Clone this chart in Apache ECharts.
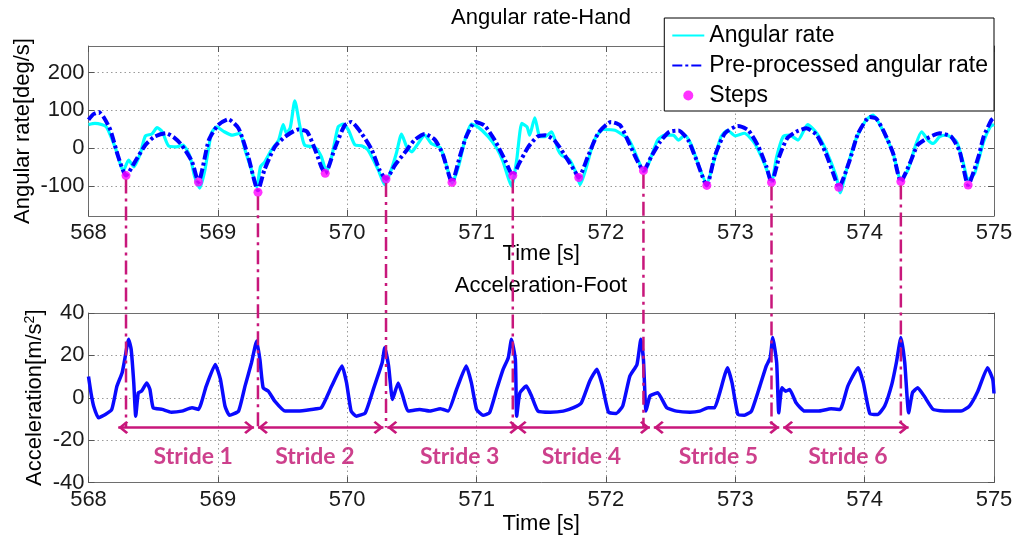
<!DOCTYPE html>
<html><head><meta charset="utf-8">
<script src="https://cdn.jsdelivr.net/npm/echarts@6/dist/echarts.min.js"></script>
<style>html,body{margin:0;padding:0;background:#fff}#c{width:1024px;height:546px}</style>
</head><body><div id="c"></div>
<script>
// ---------- data ----------
const xTicks = [568, 569, 570, 571, 572, 573, 574, 575];
const angYTicks = [-100, 0, 100, 200];
const accYTicks = [-40, -20, 0, 20, 40];

const angRateT = [568.00,568.05,568.10,568.14,568.205,568.27,568.31,568.35,568.40,568.44,568.49,568.53,568.57,568.62,568.68,568.73,568.785,568.82,568.86,568.90,568.95,568.99,569.05,569.11,569.17,569.21,569.26,569.30,569.33,569.36,569.415,569.47,569.505,569.53,569.56,569.595,569.635,569.67,569.75,569.80,569.84,569.88,569.93,569.97,570.01,570.06,570.11,570.16,570.24,570.29,570.34,570.38,570.42,570.46,570.50,570.54,570.60,570.65,570.72,570.77,570.81,570.86,570.91,570.96,571.01,571.09,571.155,571.205,571.27,571.31,571.35,571.39,571.41,571.45,571.49,571.53,571.58,571.63,571.66,571.72,571.77,571.80,571.85,571.91,571.98,572.07,572.15,572.18,572.21,572.275,572.30,572.35,572.40,572.455,572.52,572.56,572.61,572.66,572.71,572.78,572.83,572.89,572.94,573.00,573.07,573.15,573.23,573.28,573.32,573.37,573.42,573.485,573.56,573.63,573.70,573.78,573.81,573.86,573.93,574.01,574.065,574.14,574.22,574.28,574.335,574.39,574.44,574.49,574.53,574.58,574.63,574.71,574.76,574.80,574.85,574.92,574.97,575.00];
const angRateV = [62,65,62,55,3,-60,-32,-50,-15,32,37,54,43,5,3,8,-23,-75,-106,-58,39,56,43,34,39,-5,-58,-103,-49,-38,-5,21,62,39,54,125,56,8,2,-23,-63,-23,56,63,47,8,6,-5,-58,-97,-58,-14,37,3,-10,8,34,12,0,-49,-93,-49,21,63,56,30,0,-36,-101,-32,65,56,34,80,30,30,43,-5,-20,-32,-67,-97,-49,21,49,47,30,21,0,-53,-62,-23,21,34,34,21,34,8,-40,-95,-40,30,47,32,39,12,-45,-89,-23,30,34,21,62,39,-5,-75,-119,-58,21,74,87,47,-14,-84,-58,3,43,21,12,30,34,17,-36,-84,-67,17,56,62];

const preT = [568.00,568.04,568.08,568.12,568.17,568.23,568.29,568.36,568.44,568.51,568.60,568.66,568.72,568.80,568.85,568.93,569.00,569.08,569.16,569.235,569.31,569.36,569.44,569.52,569.62,569.69,569.76,569.80,569.83,569.905,569.98,570.03,570.11,570.19,570.25,570.30,570.37,570.45,570.52,570.60,570.68,570.74,570.81,570.87,570.92,570.99,571.06,571.14,571.22,571.28,571.33,571.40,571.47,571.53,571.60,571.68,571.76,571.79,571.86,571.94,572.04,572.11,572.18,572.24,572.29,572.35,572.42,572.49,572.56,572.635,572.70,572.78,572.84,572.92,573.02,573.10,573.18,573.24,573.28,573.34,573.40,573.47,573.55,573.63,573.70,573.76,573.80,573.885,573.95,574.04,574.09,574.155,574.22,574.28,574.35,574.41,574.48,574.58,574.67,574.735,574.80,574.88,574.92,574.98,575.00];
const preV = [75,90,95,80,47,-23,-73,-36,8,30,39,28,8,-36,-90,21,60,76,52,-23,-112,-58,3,30,49,43,-12,-50,-67,0,60,69,39,-5,-58,-82,-45,-10,21,37,21,-18,-91,-23,30,69,60,21,-32,-73,-40,3,30,34,21,-18,-62,-78,-23,39,69,60,12,-32,-60,-23,17,43,46,21,-32,-99,-23,39,58,47,3,-49,-91,-23,25,43,52,34,-14,-70,-104,-32,39,82,78,39,-14,-89,-40,8,25,39,30,-10,-98,-23,30,74,80];

const stepT = [568.29,568.85,569.31,569.83,570.30,570.81,571.28,571.79,572.29,572.78,573.28,573.80,574.28,574.80];
const stepV = [-73,-90,-117,-67,-82,-91,-73,-78,-60,-99,-91,-104,-89,-98];

const accT = [568.00,568.02,568.04,568.076,568.13,568.18,568.22,568.26,568.28,568.31,568.33,568.35,568.365,568.385,568.41,568.45,568.475,568.50,568.57,568.64,568.72,568.80,568.85,568.91,568.98,569.02,569.055,569.09,569.16,569.21,569.26,569.30,569.325,569.35,569.39,569.44,569.52,569.62,569.725,569.80,569.88,569.96,569.995,570.03,570.07,570.14,570.21,570.27,570.29,570.32,570.35,570.394,570.43,570.47,570.56,570.64,570.72,570.78,570.845,570.92,570.96,571.00,571.05,571.10,571.155,571.205,571.245,571.27,571.30,571.31,571.335,571.385,571.425,571.475,571.57,571.67,571.75,571.81,571.875,571.93,571.97,572.02,572.08,572.13,572.185,572.24,572.27,572.29,572.31,572.34,572.365,572.40,572.47,572.545,572.65,572.725,572.79,572.84,572.88,572.94,572.975,573.02,573.07,573.125,573.19,573.24,573.27,573.29,573.32,573.336,573.36,573.39,573.42,573.47,573.535,573.64,573.74,573.81,573.87,573.95,573.99,574.04,574.10,574.155,574.21,574.245,574.28,574.31,574.34,574.37,574.41,574.46,574.53,574.64,574.745,574.81,574.875,574.95,574.99,575.00];
const accV = [10,2,-4,-9.4,-7.9,-5.5,5.5,11.8,18,27.6,22.8,7,-8.7,2.4,3.1,7,3.9,-4.7,-5.5,-6.8,-6.3,-4.7,-5.5,5.5,15.7,8.7,-3.9,-8.3,-6.3,5.5,16.5,26.8,18,4.7,3.1,-1.6,-6.3,-6.3,-5.5,-4.7,5.5,15,7,-6.3,-8.7,-7.1,5.5,16.5,23.6,15,-0.8,7,0.8,-6.3,-5.5,-6.3,-5.2,-6.3,3.9,15,7,-5.5,-8.3,-7.1,3.9,13.4,18.9,27.6,18,-8.7,2.4,5.5,0.8,-6.3,-6.8,-6.3,-4.7,-2.4,7.9,13.4,6.3,-6.8,-7.4,-3.9,10.2,15.7,27.6,18,-6.3,0.8,1.6,2.4,-4.7,-6.3,-6.8,-6.3,-4.7,-4.7,2.4,14.2,7,-7.9,-8.3,-6.3,5.5,15,18.9,28.4,16.5,-7.1,4.7,3.1,3.9,-2.4,-6.3,-6.3,-5.2,-5.5,5.5,14.2,7,-7.4,-7.9,-3.9,6.3,16.5,28.4,16.5,-7.1,2.4,4.7,0.8,-5.5,-6.3,-6.3,-3.9,3.1,14.2,8.7,2];

const boundaryIdx = [0, 2, 4, 6, 8, 10, 12];
const arrowLevel = -14;
const strideStart = [568.23, 569.31, 570.31, 571.31, 572.37, 573.37];
const strideEnd = [569.28, 570.28, 571.33, 572.34, 573.34, 574.34];
const strideNames = ['Stride 1', 'Stride 2', 'Stride 3', 'Stride 4', 'Stride 5', 'Stride 6'];
const strideLabelT = [568.81, 569.75, 570.87, 571.81, 572.87, 573.87];
const strideLabelV = -27.7;

// ---------- chart ----------
const FONT = "'Liberation Sans', Arial, Helvetica, sans-serif";
const MAG = '#c8177b';
const zip = (a, b) => a.map((t, i) => [t, b[i]]);
const chart = echarts.init(document.getElementById('c'), null, {renderer: 'canvas'});

const frame = {show: true, onZero: false, lineStyle: {color: '#6e6e6e', width: 1}};
const tick = (vals) => { const o = {show: true, inside: true, length: 6, lineStyle: {color: '#555'}}; if (vals) o.customValues = vals; return o; };
const grid = {show: true, lineStyle: {color: '#9a9a9a', width: 1, type: [1.5, 3]}};
const lbl = (vals) => { const o = {show: true, fontSize: 22, color: '#1a1a1a', fontFamily: FONT}; if (vals) o.customValues = vals; return o; };

function xAx(gi, gap) {
  return [
    {gridIndex: gi, type: 'value', min: xTicks[0], max: xTicks[xTicks.length-1], interval: 1, position: 'bottom',
     name: 'Time [s]', nameLocation: 'middle', nameGap: gap, nameMoveOverlap: false,
     nameTextStyle: {fontSize: 22, color: '#000', fontFamily: FONT},
     axisLine: frame, axisTick: tick(), axisLabel: Object.assign(lbl(), {margin: 6}), splitLine: grid},
    {gridIndex: gi, type: 'value', min: xTicks[0], max: xTicks[xTicks.length-1], interval: 1, position: 'top',
     axisLine: frame, axisTick: tick(), axisLabel: {show: false}, splitLine: {show: false}}
  ];
}

const chev = 'path://M10,-12.5L10,-12.5M10,0L20,10L17.5,12.5L10,5L2.5,12.5L0,10Z';

const option = {
  animation: false,
  backgroundColor: '#fff',
  title: [
    {text: 'Angular rate-Hand', left: 541, top: 7, textAlign: 'center', padding: 0,
     textStyle: {fontSize: 22, fontWeight: 'normal', color: '#000', fontFamily: FONT}},
    {text: 'Acceleration-Foot', left: 541, top: 275, textAlign: 'center', padding: 0,
     textStyle: {fontSize: 22, fontWeight: 'normal', color: '#000', fontFamily: FONT}}
  ],
  legend: {
    orient: 'vertical', right: 30, top: 18, itemWidth: 32, itemHeight: 10, itemGap: 7,
    padding: [6, 6, 4, 7], backgroundColor: '#fff', borderColor: '#000', borderWidth: 1, borderRadius: 0,
    textStyle: {fontSize: 23, lineHeight: 23, color: '#000', fontFamily: FONT},
    data: [
      {name: 'Angular rate', itemStyle: {opacity: 0}},
      {name: 'Pre-processed angular rate', itemStyle: {opacity: 0}},
      {name: 'Steps'}
    ]
  },
  grid: [
    {left: 88.5, right: 30, top: 46, height: 170, outerBoundsMode: 'none', containLabel: false},
    {left: 88.5, right: 30, top: 313, height: 169.5, outerBoundsMode: 'none', containLabel: false}
  ],
  xAxis: [].concat(xAx(0, 27), xAx(1, 30)),
  yAxis: [
    {gridIndex: 0, type: 'value', min: -180, max: 270, position: 'left',
     name: 'Angular rate[deg/s]', nameLocation: 'middle', nameGap: 55, nameMoveOverlap: false,
     nameTextStyle: {fontSize: 22, color: '#000', fontFamily: FONT},
     axisLine: frame, axisTick: tick(angYTicks), axisLabel: Object.assign(lbl(angYTicks), {margin: 4}), splitLine: grid},
    {gridIndex: 0, type: 'value', min: -180, max: 270, position: 'right',
     axisLine: frame, axisTick: tick(angYTicks), axisLabel: {show: false}, splitLine: {show: false}},
    {gridIndex: 1, type: 'value', min: accYTicks[0], max: accYTicks[accYTicks.length-1], interval: 20, position: 'left',
     name: 'Acceleration[m/s{sup|2}]', nameLocation: 'middle', nameGap: 43, nameMoveOverlap: false,
     nameTextStyle: {fontSize: 22, color: '#000', fontFamily: FONT,
       rich: {sup: {fontSize: 14, verticalAlign: 'top', color: '#000', fontFamily: FONT}}},
     axisLine: frame, axisTick: tick(), axisLabel: Object.assign(lbl(), {margin: 4}), splitLine: grid},
    {gridIndex: 1, type: 'value', min: accYTicks[0], max: accYTicks[accYTicks.length-1], interval: 20, position: 'right',
     axisLine: frame, axisTick: tick(), axisLabel: {show: false}, splitLine: {show: false}}
  ],
  series: [
    {name: 'Angular rate', type: 'line', xAxisIndex: 0, yAxisIndex: 0, data: zip(angRateT, angRateV),
     symbol: 'none', showSymbol: false, smooth: 0.2, z: 2,
     lineStyle: {color: '#00ffff', width: 3.2}, itemStyle: {color: '#00ffff'}},
    {name: 'Pre-processed angular rate', type: 'line', xAxisIndex: 0, yAxisIndex: 0, data: zip(preT, preV),
     symbol: 'none', showSymbol: false, smooth: 0.2, z: 3,
     lineStyle: {color: '#0000ff', width: 4, type: [10, 3, 3, 3]}, itemStyle: {color: '#0000ff'}},
    {name: 'Steps', type: 'scatter', xAxisIndex: 0, yAxisIndex: 0, data: zip(stepT, stepV),
     symbol: 'circle', symbolSize: 9, z: 6, itemStyle: {color: '#ff00ff'}},
    {name: 'Acceleration', type: 'line', xAxisIndex: 2, yAxisIndex: 2, data: zip(accT, accV),
     symbol: 'none', showSymbol: false, smooth: 0.15, z: 3,
     lineStyle: {color: '#0a0aff', width: 3.5}, itemStyle: {color: '#0a0aff'},
     markLine: {
       silent: true, symbol: [chev, chev], symbolSize: [13, 20],
       lineStyle: {color: MAG, width: 2.5, type: 'solid'}, label: {show: false},
       data: strideStart.map((s, i) => [{coord: [s, arrowLevel]}, {coord: [strideEnd[i], arrowLevel]}])
     }},
    {name: 'Stride labels', type: 'scatter', xAxisIndex: 2, yAxisIndex: 2, symbolSize: 0, silent: true, z: 7,
     data: strideLabelT.map((t, i) => ({name: strideNames[i], value: [t, strideLabelV]})),
     label: {show: true, position: 'inside', formatter: '{b}', color: '#c0106f', fontSize: 23, fontWeight: 'bold', fontFamily: "Lato, 'Open Sans', sans-serif"}}
  ]
};
chart.setOption(option);

// vertical connectors between the two plots at stride boundaries
const conn = boundaryIdx.map(i => {
  const p1 = chart.convertToPixel({xAxisIndex: 0, yAxisIndex: 0}, [stepT[i], stepV[i]]);
  const p2 = chart.convertToPixel({xAxisIndex: 2, yAxisIndex: 2}, [stepT[i], arrowLevel]);
  return {type: 'line', silent: true, z: 100,
    shape: {x1: p1[0], y1: p1[1] + 4, x2: p2[0], y2: p2[1]},
    style: {stroke: MAG, lineWidth: 2.5, lineDash: [14, 5, 3, 5]}};
});
chart.setOption({graphic: conn});
</script>
</body></html>
